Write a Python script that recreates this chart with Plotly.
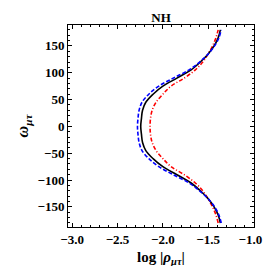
import plotly.graph_objects as go

omega = [-180, -165, -150, -135, -120, -105, -90, -75, -60, -45, -30, -15, 0,
         15, 30, 45, 60, 75, 90, 105, 120, 135, 150, 165, 180]

# values read for omega = 0, 15, ..., 180 (curves are mirror-symmetric in omega)
half_black = [-2.244, -2.236, -2.224, -2.188, -2.108, -2.0, -1.845, -1.692, -1.587, -1.50, -1.435, -1.39, -1.366]
half_blue = [-2.28, -2.274, -2.262, -2.23, -2.155, -2.045, -1.885, -1.715, -1.595, -1.50, -1.43, -1.382, -1.356]
half_red = [-2.141, -2.136, -2.118, -2.075, -2.0, -1.91, -1.765, -1.645, -1.56, -1.502, -1.452, -1.415, -1.39]

log_rho_black = half_black[::-1] + half_black[1:]
log_rho_blue = half_blue[::-1] + half_blue[1:]
log_rho_red = half_red[::-1] + half_red[1:]

x_ticks = [-3.0, -2.5, -2.0, -1.5, -1.0]
x_labels = ["\u22123.0", "\u22122.5", "\u22122.0", "\u22121.5", "\u22121.0\u2002"]
y_ticks = [-150, -100, -50, 0, 50, 100, 150]
y_labels = ["\u2212150", "\u2212100", "\u221250", "0", "50", "100", "150"]

serif = "Liberation Serif, Times New Roman, serif"

fig = go.Figure()
fig.add_trace(go.Scatter(x=log_rho_red, y=omega, mode="lines", line_shape="spline",
                         line=dict(color="#ff0000", width=1.6, dash="4px,2px,1px,2px")))
fig.add_trace(go.Scatter(x=log_rho_black, y=omega, mode="lines", line_shape="spline",
                         line=dict(color="#000000", width=1.6)))
fig.add_trace(go.Scatter(x=log_rho_blue, y=omega, mode="lines", line_shape="spline",
                         line=dict(color="#0000ff", width=1.6, dash="4px,2px")))

axis_common = dict(showgrid=False, zeroline=False, showline=True, linecolor="black",
                   linewidth=1, mirror="ticks", ticks="inside", ticklen=4,
                   ticklabeloverflow="allow",
                   tickcolor="black", tickfont=dict(family=serif, size=13, color="black", weight="bold"))

fig.update_xaxes(range=[-3.046, -0.995], tickvals=x_ticks, ticktext=x_labels,
                 minor=dict(dtick=0.1, ticks="inside", ticklen=2, tickcolor="black"),
                 title=dict(text="log |<i>ρ</i><sub><i>μτ</i></sub>|",
                            font=dict(family=serif, size=15, color="black", weight="bold"), standoff=5),
                 **axis_common)
fig.update_yaxes(range=[-187.5, 189], tickvals=y_ticks, ticktext=y_labels,
                 minor=dict(dtick=10, ticks="inside", ticklen=2, tickcolor="black"),
                 title=dict(text="<i>ω</i><sub><i>μτ</i></sub>",
                            font=dict(family=serif, size=16, color="black", weight="bold"), standoff=4),
                 **axis_common)

fig.update_layout(width=273, height=266, margin=dict(l=60, r=13, t=17, b=47),
                  paper_bgcolor="white", plot_bgcolor="white", showlegend=False,
                  title=dict(text="NH", x=0.5, xref="paper", y=0.965, yanchor="middle",
                             font=dict(family=serif, size=13, color="black", weight="bold")))

fig.write_html("out.html")
